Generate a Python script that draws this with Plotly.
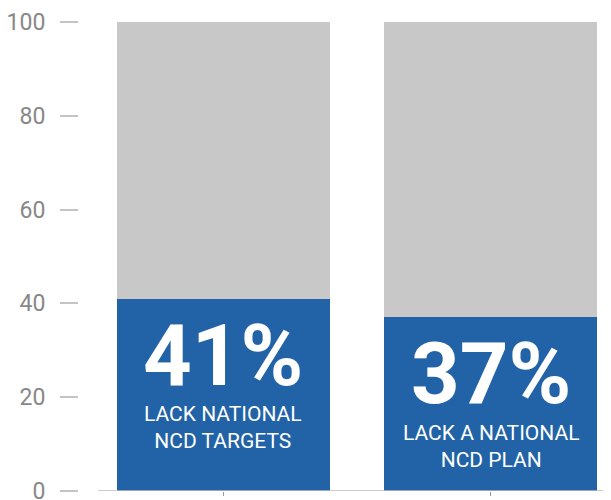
"""
Stacked share bars: countries lacking NCD targets / plan.
"""

import plotly.graph_objects as go

# Data
categories = ["targets", "plan"]
lack_pct = [41, 37]
rest_pct = [59, 63]
big_labels = ["41%", "37%"]
sub_labels = ["LACK NATIONAL<br>NCD TARGETS", "LACK A NATIONAL<br>NCD PLAN"]
y_ticks = [0, 20, 40, 60, 80, 100]

BLUE = "#2163a6"
GREY = "#c8c8c8"
FONT = "Roboto"

fig = go.Figure()
fig.add_trace(go.Bar(x=categories, y=lack_pct, marker_color=BLUE,
                     marker_line_width=0, hoverinfo="skip"))
fig.add_trace(go.Bar(x=categories, y=rest_pct, marker_color=GREY,
                     marker_line_width=0, hoverinfo="skip"))

# Text inside the blue part, hung from the top of each blue bar
for cat, val, big, sub in zip(categories, lack_pct, big_labels, sub_labels):
    fig.add_annotation(x=cat, y=val, text="<b>%s</b>" % big, showarrow=False,
                       yanchor="middle", yshift=-57,
                       font=dict(family=FONT, size=85, color="white"))
    fig.add_annotation(x=cat, y=val, text=sub, showarrow=False,
                       yanchor="middle", yshift=-129,
                       font=dict(family=FONT, size=21, color="white"))

# baseline that starts a bit right of the y ticks
fig.add_shape(type="line", xref="x", yref="y", x0=-0.47, x1=1.451, y0=0, y1=0,
              line=dict(color="#bdbdbd", width=1.5), layer="above")

# page body has an 8px margin, so the figure is 8px smaller on each side
fig.update_layout(
    barmode="stack",
    bargap=0.2,
    showlegend=False,
    width=603,
    height=492,
    margin=dict(l=71, r=0, t=14, b=9, autoexpand=False),
    plot_bgcolor="white",
    paper_bgcolor="white",
    xaxis=dict(
        range=[-0.541, 1.451],
        showticklabels=False,
        ticks="outside",
        ticklen=4,
        tickcolor="#999999",
        showline=False,
        showgrid=False,
        zeroline=False,
        automargin=False,
    ),
    yaxis=dict(
        range=[0, 100],
        tickvals=y_ticks,
        ticks="outside",
        ticklen=18,
        tickwidth=1.5,
        tickcolor="#c4c4c4",
        ticklabelstandoff=10,
        ticklabeloverflow="allow",
        tickfont=dict(family=FONT, size=23, color="#888888"),
        showline=False,
        showgrid=False,
        zeroline=False,
        automargin=False,
    ),
)

fig.write_html("out.html")
